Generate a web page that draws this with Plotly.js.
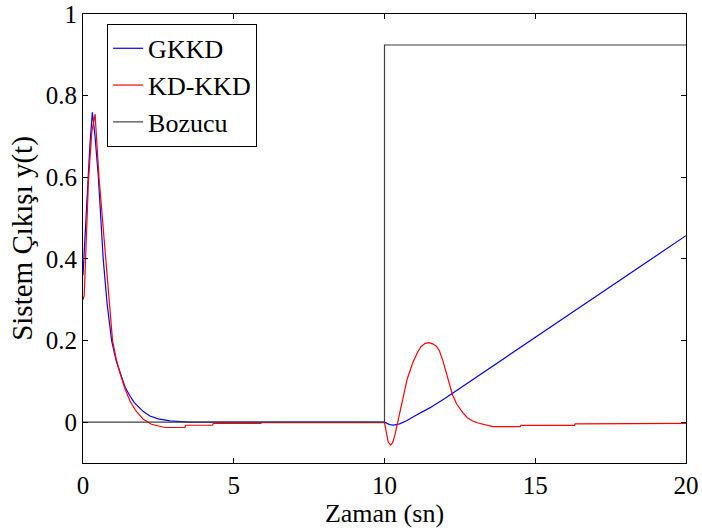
<!DOCTYPE html>
<html>
<head>
<meta charset="utf-8">
<script src="https://cdn.plot.ly/plotly-3.0.1.min.js"></script>
<style>html,body{margin:0;padding:0;background:#fff;}#chart{width:702px;height:531px;}</style>
</head>
<body>
<div id="chart"></div>
<script>
// GKKD series
var gkkdT = [0, 0.07, 0.12, 0.23, 0.31, 0.40, 0.51, 0.67, 0.80, 0.95, 1.10, 1.22, 1.40, 1.56, 1.70, 2.0, 2.22, 2.5, 2.88, 3.5, 10, 10.17, 10.3, 10.5, 10.75, 11.0, 11.5, 12.0, 12.5, 13.0, 13.5, 15, 17.5, 20];
var gkkdY = [0.36, 0.46, 0.55, 0.68, 0.759, 0.70, 0.60, 0.40, 0.29, 0.20, 0.150, 0.122, 0.085, 0.064, 0.048, 0.026, 0.015, 0.008, 0.003, 0, 0, -0.006, -0.007, -0.004, 0.004, 0.015, 0.035, 0.058, 0.083, 0.108, 0.133, 0.208, 0.333, 0.457];
// KD-KKD series
var kdT = [0, 0.04, 0.08, 0.18, 0.29, 0.40, 0.53, 0.75, 0.85, 0.98, 1.10, 1.22, 1.40, 1.56, 1.75, 2.0, 2.27, 2.72, 3.38, 3.4, 4.3, 4.32, 5.9, 5.92, 10.0, 10.05, 10.12, 10.2, 10.27, 10.35, 10.44, 10.5, 10.61, 10.75, 10.94, 11.1, 11.21, 11.35, 11.47, 11.6, 11.72, 11.82, 11.93, 12.04, 12.15, 12.26, 12.4, 12.59, 12.75, 12.92, 13.1, 13.26, 13.6, 14.5, 14.52, 16.3, 16.32, 20];
var kdY = [0.30, 0.31, 0.39, 0.59, 0.71, 0.755, 0.60, 0.40, 0.30, 0.20, 0.155, 0.122, 0.08, 0.052, 0.028, 0.007, -0.005, -0.013, -0.013, -0.0075, -0.0075, -0.003, -0.003, -0.001, -0.001, -0.025, -0.048, -0.056, -0.05, -0.03, 0, 0.02, 0.064, 0.105, 0.146, 0.172, 0.185, 0.193, 0.195, 0.192, 0.186, 0.175, 0.152, 0.122, 0.092, 0.066, 0.044, 0.024, 0.011, 0.003, -0.002, -0.005, -0.011, -0.011, -0.008, -0.008, -0.004, -0.003];
// Bozucu (disturbance)
var bozT = [0, 10, 10, 20];
var bozY = [0, 0, 0.924, 0.924];
// ticks
var xTicks = [0, 5, 10, 15, 20];
var yTicks = [0, 0.2, 0.4, 0.6, 0.8, 1];
var yTickText = ['0', '0.2', '0.4', '0.6', '0.8', '1'];

var traces = [
  {x: gkkdT, y: gkkdY, name: 'GKKD', mode: 'lines', line: {color: '#0000ff', width: 1.2}},
  {x: kdT, y: kdY, name: 'KD-KKD', mode: 'lines', line: {color: '#ff0000', width: 1.2}},
  {x: bozT, y: bozY, name: 'Bozucu', mode: 'lines', line: {color: '#404040', width: 1.2}}
];
var layout = {
  width: 702, height: 531,
  margin: {l: 83, r: 16, t: 14, b: 68},
  paper_bgcolor: '#fff', plot_bgcolor: '#fff',
  showlegend: true,
  legend: {x: 0.04, y: 0.978, xanchor: 'left', yanchor: 'top', bgcolor: '#fff',
    bordercolor: '#000', borderwidth: 1, font: {family: 'Liberation Serif', size: 26, color: '#000'}, tracegroupgap: 0},
  xaxis: {
    showline: true, linecolor: '#000', linewidth: 1, mirror: 'ticks',
    ticks: 'inside', ticklen: 5, tickcolor: '#000', showgrid: false, zeroline: false,
    tickfont: {family: 'Liberation Serif', size: 25, color: '#000'},
    range: [0, 20], tickvals: xTicks, ticktext: xTicks.map(String),
    title: {text: 'Zaman (sn)', font: {family: 'Liberation Serif', size: 26, color: '#000'}, standoff: 2}
  },
  yaxis: {
    showline: true, linecolor: '#000', linewidth: 1, mirror: 'ticks',
    ticks: 'inside', ticklen: 5, tickcolor: '#000', showgrid: false, zeroline: false,
    tickfont: {family: 'Liberation Serif', size: 25, color: '#000'},
    range: [-0.1, 1], tickvals: yTicks, ticktext: yTickText,
    title: {text: 'Sistem Çıkışı y(t)', font: {family: 'Liberation Serif', size: 29, color: '#000'}, standoff: 4}
  }
};
Plotly.newPlot('chart', traces, layout, {displayModeBar: false, staticPlot: true});
</script>
</body>
</html>
